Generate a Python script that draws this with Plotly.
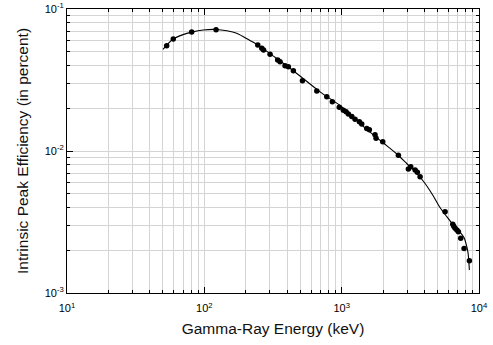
import plotly.graph_objects as go

# measured points (Gamma-ray energy keV, intrinsic peak efficiency)
energy_pts = [53.2, 59.4, 80.9, 121.7, 245, 262, 270, 301, 342, 356, 387, 409, 445, 518,
              659, 779, 855, 961, 1029, 1076, 1119, 1185, 1252, 1346, 1400, 1523, 1591,
              1750, 1780, 1991, 2588, 3060, 3185, 3426, 3556, 3724, 5663, 6443, 6550,
              6697, 6900, 7079, 7362, 7787, 8511]
eff_pts = [0.0552, 0.0615, 0.0689, 0.0715, 0.0558, 0.0529, 0.0515, 0.0480, 0.0437, 0.0425,
           0.0399, 0.0392, 0.0368, 0.0313, 0.0265, 0.0241, 0.0222, 0.0203, 0.0194, 0.0189,
           0.0182, 0.0175, 0.0167, 0.0161, 0.0155, 0.0144, 0.0141, 0.0130, 0.0123, 0.01163,
           0.00935, 0.00747, 0.00775, 0.00735, 0.00708, 0.00659, 0.00374, 0.00305, 0.00295,
           0.00286, 0.00278, 0.00270, 0.00243, 0.00206, 0.00169]

# fitted curve
energy_fit = [50, 59, 70, 81, 98, 122, 146, 172, 215, 250, 300, 400, 500, 700, 1000, 1500,
              2000, 2500, 3000, 3500, 4000, 4600, 5200, 5830, 6520, 7280, 7790, 8150,
              8330, 8510]
eff_fit = [0.0520, 0.0612, 0.0660, 0.0687, 0.0711, 0.0718, 0.0703, 0.0675, 0.0600, 0.0552,
           0.0485, 0.0397, 0.0336, 0.0260, 0.0205, 0.01436, 0.01144, 0.0096, 0.0081, 0.0070,
           0.0060, 0.0049, 0.0040, 0.00345, 0.00300, 0.00268, 0.00245, 0.00212,
           0.00190, 0.00145]

x_major = [10, 100, 1000, 10000]
x_major_text = ["10<sup>1</sup>", "10<sup>2</sup>", "10<sup>3</sup>", "10<sup>4</sup>"]
y_major = [0.001, 0.01, 0.1]
y_major_text = ["10<sup>-3</sup>", "10<sup>-2</sup>", "10<sup>-1</sup>"]
digits = [2, 3, 4, 5, 6, 7, 8, 9]
x_minor = [d * m for m in [10, 100, 1000] for d in digits]
y_minor = [d * m for m in [0.001, 0.01] for d in digits]

FONT = "Liberation Sans, Arial, sans-serif"

fig = go.Figure()
fig.add_trace(go.Scatter(x=energy_fit, y=eff_fit, mode="lines",
                         line=dict(color="black", width=1.1, shape="spline", smoothing=0.8),
                         showlegend=False, hoverinfo="skip"))
fig.add_trace(go.Scatter(x=energy_pts, y=eff_pts, mode="markers",
                         marker=dict(color="black", size=5.5),
                         showlegend=False))

grid_color = "#d4d4d4"
axis_common = dict(
    type="log", showline=True, linecolor="black", linewidth=1, mirror="allticks",
    ticks="inside", ticklen=6, tickcolor="black", tickwidth=1, automargin=False,
    showgrid=True, gridcolor=grid_color, gridwidth=1, zeroline=False,
    tickfont=dict(family=FONT, size=11, color="black"),
)

fig.update_xaxes(
    **axis_common,
    range=[1, 4],
    tickvals=x_major, ticktext=x_major_text,
    ticklabelstandoff=5,
    minor=dict(tickvals=x_minor, ticks="inside", ticklen=3, tickcolor="black",
               showgrid=True, gridcolor=grid_color, gridwidth=1),
    title=dict(text="Gamma-Ray Energy (keV)", standoff=9,
               font=dict(family=FONT, size=15.5, color="#111")),
)
fig.update_yaxes(
    **axis_common,
    range=[-3, -1],
    tickvals=y_major, ticktext=y_major_text,
    minor=dict(tickvals=y_minor, ticks="inside", ticklen=3, tickcolor="black",
               showgrid=True, gridcolor=grid_color, gridwidth=1),
    title=dict(text="Intrinsic Peak Efficiency (in percent)", standoff=12,
               font=dict(family=FONT, size=15.5, color="#111")),
)

fig.update_layout(
    width=493, height=345,
    margin=dict(l=67, r=14, t=9, b=52),
    paper_bgcolor="white", plot_bgcolor="white",
)

fig.write_html("out.html")
